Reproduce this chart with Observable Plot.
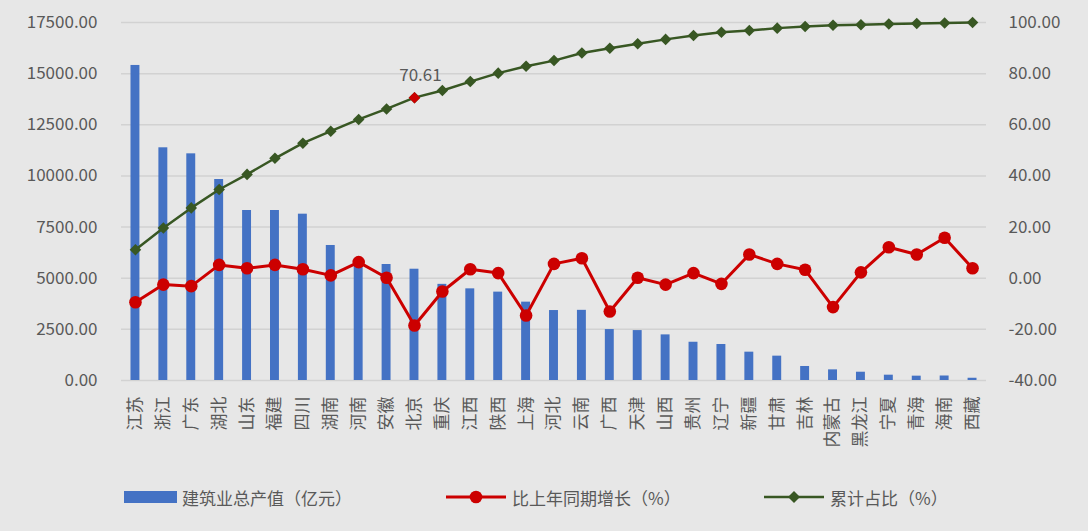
<!DOCTYPE html>
<html><head><meta charset="utf-8">
<script src="https://cdn.jsdelivr.net/npm/d3@7"></script>
<script src="https://cdn.jsdelivr.net/npm/@observablehq/plot@0.6"></script>
<style>
body{margin:0;background:#e7e7e7;font-family:"Noto Sans CJK SC","Noto Sans",sans-serif;}
#wrap{position:relative;width:1088px;height:531px;overflow:hidden;}
.item{position:absolute;top:484px;height:26px;display:flex;align-items:center;font-size:17px;color:#595959;white-space:nowrap;}
.item svg{margin-right:4px;}
</style></head><body>
<div id="wrap"><div id="chart"></div><div id="legend"></div></div>
<script>
const provinces = ["江苏","浙江","广东","湖北","山东","福建","四川","湖南","河南","安徽","北京","重庆","江西","陕西","上海","河北","云南","广西","天津","山西","贵州","辽宁","新疆","甘肃","吉林","内蒙古","黑龙江","宁夏","青海","海南","西藏"];
const output = [15400,11375,11080,9825,8310,8310,8130,6600,5950,5670,5440,4700,4480,4320,3830,3420,3430,2490,2440,2230,1870,1760,1385,1190,685,520,405,260,212,220,110];
const growth = [-9.4,-2.5,-3.1,5.2,3.9,5.2,3.5,1.1,6.3,0.2,-18.5,-5.2,3.5,2.0,-14.6,5.6,7.8,-13.0,0.2,-2.5,2.0,-2.2,9.3,5.6,3.3,-11.3,2.3,12.1,9.3,15.8,3.9];
const cumulative = [11.1,19.6,27.5,34.7,40.6,46.9,52.8,57.5,62.1,66.2,70.61,73.4,76.9,80.2,82.9,85.1,88.1,89.9,91.7,93.4,94.9,96.2,96.9,97.8,98.4,98.9,99.1,99.4,99.6,99.8,100];
const leftTicks = [0,2500,5000,7500,10000,12500,15000,17500];
const rightTicks = [-40,-20,0,20,40,60,80,100];
const highlightProvince = "北京";
const highlightLabel = "70.61";
const seriesNames = ["建筑业总产值（亿元）","比上年同期增长（%）","累计占比（%）"];

const L0 = 0, L1 = 17500, R0 = -40, R1 = 100;
const toLeft = v => (v - R0) / (R1 - R0) * (L1 - L0) + L0;
const toRight = v => (Math.round((v - L0) / (L1 - L0) * (R1 - R0) + R0) + 0);

const blue = "#4472C4", red = "#cc0000", green = "#385723", textColor = "#595959";
const data = provinces.map((p, i) => ({province: p, output: output[i], growth: growth[i], cumulative: cumulative[i]}));
const hl = data.filter(d => d.province === highlightProvince);

const chart = Plot.plot({
  width: 1088, height: 470,
  marginTop: 22, marginBottom: 90, marginLeft: 121, marginRight: 102,
  style: {background: "transparent", color: textColor, fontFamily: "'Noto Sans CJK SC','Noto Sans',sans-serif", fontSize: "17px"},
  x: {type: "band", domain: provinces, paddingInner: 0.68, paddingOuter: 0.34, round: false},
  y: {domain: [L0, L1]},
  marks: [
    Plot.ruleY(leftTicks, {stroke: "#d2d2d2", strokeWidth: 1.5}),
    Plot.barY(data, {x: "province", y: "output", fill: blue}),
    Plot.line(data, {x: "province", y: d => toLeft(d.growth), stroke: red, strokeWidth: 3}),
    Plot.dot(data, {x: "province", y: d => toLeft(d.growth), r: 6.3, fill: red, stroke: "none"}),
    Plot.line(data, {x: "province", y: d => toLeft(d.cumulative), stroke: green, strokeWidth: 2.5}),
    Plot.dot(data, {x: "province", y: d => toLeft(d.cumulative), r: 5.2, symbol: "diamond2", fill: green, stroke: "none"}),
    Plot.dot(hl, {x: "province", y: d => toLeft(d.cumulative), r: 5.2, symbol: "diamond2", fill: red, stroke: "none"}),
    Plot.text(hl, {x: "province", y: d => toLeft(d.cumulative), text: () => highlightLabel, dy: -22, dx: 6, fill: textColor, fontSize: 17}),
    Plot.axisY(leftTicks, {anchor: "left", tickFormat: d => d.toFixed(2), tickSize: 0, tickPadding: 24, label: null, fontSize: 17}),
    Plot.axisY(rightTicks.map(toLeft), {anchor: "right", tickFormat: d => toRight(d).toFixed(2), tickSize: 0, tickPadding: 22, label: null, fontSize: 17}),
    Plot.axisX({tickRotate: -90, tickSize: 0, tickPadding: 16, label: null, fontSize: 17})
  ]
});
document.getElementById("chart").appendChild(chart);

const legend = document.getElementById("legend");
const items = [
  {left: 124, svg: `<svg width="54" height="14"><rect x="0" y="1" width="53" height="12" fill="${blue}"/></svg>`},
  {left: 446, svg: `<svg width="62" height="16"><line x1="0" y1="8" x2="60" y2="8" stroke="${red}" stroke-width="3"/><circle cx="30" cy="8" r="6.3" fill="${red}"/></svg>`},
  {left: 764, svg: `<svg width="62" height="16"><line x1="0" y1="8" x2="60" y2="8" stroke="${green}" stroke-width="2.5"/><path d="M30,2L36,8L30,14L24,8Z" fill="${green}"/></svg>`}
];
items.forEach((it, i) => {
  const div = document.createElement("div");
  div.className = "item";
  div.style.left = it.left + "px";
  div.innerHTML = it.svg + `<span>${seriesNames[i]}</span>`;
  legend.appendChild(div);
});
</script>
</body></html>
